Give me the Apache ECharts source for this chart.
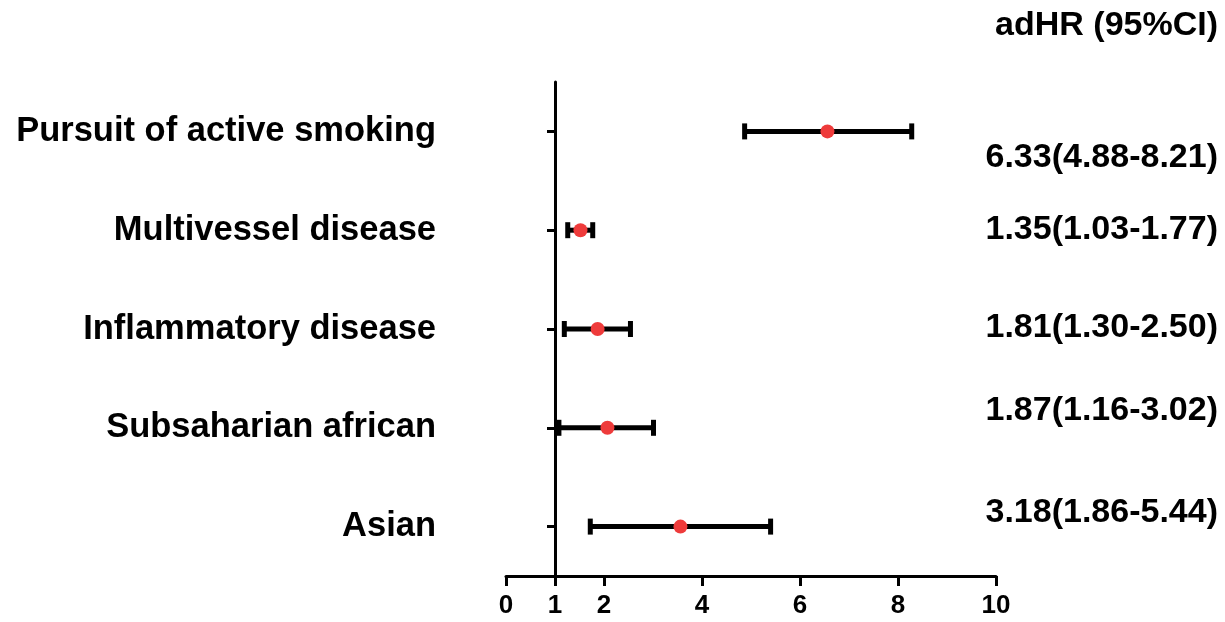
<!DOCTYPE html>
<html>
<head>
<meta charset="utf-8">
<script src="https://cdn.jsdelivr.net/npm/echarts@6/dist/echarts.min.js"></script>
<style>
html,body{margin:0;padding:0;background:#fff;}
#chart{width:1225px;height:622px;}
</style>
</head>
<body>
<div id="chart"></div>
<script>
// ---- data ----
const categories = ['Pursuit of active smoking', 'Multivessel disease', 'Inflammatory disease', 'Subsaharian african', 'Asian'];
const hrPoint = [6.56, 1.52, 1.87, 2.07, 3.56];
const ciLow = [4.87, 1.26, 1.19, 1.08, 1.72];
const ciHigh = [8.28, 1.77, 2.54, 3.01, 5.40];
const hrText = ['6.33(4.88-8.21)', '1.35(1.03-1.77)', '1.81(1.30-2.50)', '1.87(1.16-3.02)', '3.18(1.86-5.44)'];
const xTicks = [0, 1, 2, 4, 6, 8, 10];
const columnTitle = 'adHR (95%CI)';

// ---- layout / style ----
const FONT = 'Liberation Sans, Arial, sans-serif';
const textY = [160, 232, 330, 413, 515];

const chart = echarts.init(document.getElementById('chart'), null, {renderer: 'canvas'});

const errData = categories.map((c, i) => [i, ciLow[i], ciHigh[i]]);
const ptData = categories.map((c, i) => [hrPoint[i], c]);

const graphics = [{
  type: 'text', right: 7, top: 9,
  style: {text: columnTitle, font: 'bold 34px ' + FONT, fill: '#000', textAlign: 'right'}
}];
hrText.forEach((t, i) => {
  graphics.push({
    type: 'text', right: 7, top: textY[i] - 19,
    style: {text: t, font: 'bold 34px ' + FONT, fill: '#000'}
  });
});

chart.setOption({
  animation: false,
  backgroundColor: '#fff',
  grid: {left: 506, right: 229, top: 82, bottom: 46, containLabel: false},
  xAxis: {
    type: 'value', min: 0, max: 10, interval: 1,
    splitLine: {show: false},
    axisLine: {show: true, onZero: false, lineStyle: {color: '#000', width: 3}},
    axisTick: {show: true, length: 10, lineStyle: {color: '#000', width: 3}, customValues: xTicks},
    axisLabel: {show: true, margin: 17, fontSize: 26, fontWeight: 'bold', fontFamily: FONT, color: '#000', customValues: xTicks}
  },
  yAxis: {
    type: 'category', data: categories, inverse: true,
    offset: -49,
    axisLine: {show: true, onZero: false, lineStyle: {color: '#000', width: 3}},
    axisTick: {show: true, alignWithLabel: true, length: 8, lineStyle: {color: '#000', width: 3}},
    axisLabel: {margin: 119, fontSize: 34.5, fontWeight: 'bold', fontFamily: FONT, color: '#000'},
    splitLine: {show: false}
  },
  graphic: graphics,
  series: [{
    type: 'custom',
    data: errData,
    z: 2,
    renderItem: function (params, api) {
      const idx = api.value(0);
      const lo = api.coord([api.value(1), idx]);
      const hi = api.coord([api.value(2), idx]);
      const h = 8;
      const st = {stroke: '#000', lineWidth: 5};
      return {
        type: 'group',
        children: [
          {type: 'line', shape: {x1: lo[0], y1: lo[1], x2: hi[0], y2: hi[1]}, style: st},
          {type: 'line', shape: {x1: lo[0], y1: lo[1] - h, x2: lo[0], y2: lo[1] + h}, style: st},
          {type: 'line', shape: {x1: hi[0], y1: hi[1] - h, x2: hi[0], y2: hi[1] + h}, style: st}
        ]
      };
    },
    encode: {x: [1, 2], y: 0}
  }, {
    type: 'scatter',
    data: ptData,
    z: 3,
    symbol: 'circle',
    symbolSize: 14,
    itemStyle: {color: '#ee3b3b', opacity: 1}
  }]
});
</script>
</body>
</html>
